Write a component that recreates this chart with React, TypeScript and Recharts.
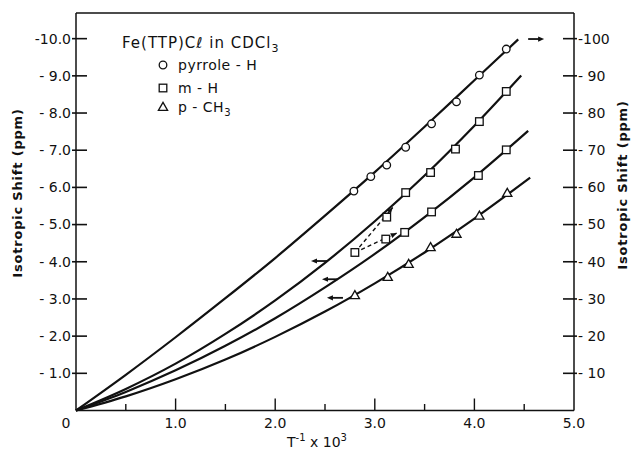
import { ComposedChart, Line, Scatter, XAxis, YAxis, Legend } from "recharts";

// axis ticks
const xTicks = [0, 0.5, 1, 1.5, 2, 2.5, 3, 3.5, 4, 4.5, 5];
const leftTicks = [1, 2, 3, 4, 5, 6, 7, 8, 9, 10];
const rightTicks = [10, 20, 30, 40, 50, 60, 70, 80, 90, 100];

// measured points (T^-1 x 10^3, isotropic shift)
const pyrroleX = [2.79, 2.96, 3.12, 3.31, 3.57, 3.82, 4.05, 4.32];
const pyrroleY = [59.0, 62.9, 66.0, 70.8, 77.1, 83.0, 90.2, 97.2];
const mHUpperX = [3.12, 3.31, 3.56, 3.81, 4.05, 4.32];
const mHUpperY = [5.2, 5.86, 6.4, 7.03, 7.77, 8.58];
const mHLowerX = [3.11, 3.3, 3.57, 4.04, 4.32];
const mHLowerY = [4.61, 4.79, 5.34, 6.32, 7.01];
const mHMergedX = [2.8];
const mHMergedY = [4.25];
const pCH3X = [2.8, 3.13, 3.34, 3.56, 3.82, 4.05, 4.33];
const pCH3Y = [3.1, 3.59, 3.94, 4.39, 4.75, 5.24, 5.85];

// drawn curves
const pyrroleCurveX = [0, 0.5, 1, 1.5, 2, 2.5, 3, 3.5, 4, 4.44];
const pyrroleCurveY = [0, 9.6, 19.7, 30.2, 41.0, 52.4, 64.1, 76.3, 88.8, 99.8];
const mHUpperCurveX = [0, 0.5, 1, 1.5, 2, 2.5, 3, 3.5, 4, 4.47];
const mHUpperCurveY = [0, 0.58, 1.26, 2.06, 2.96, 3.97, 5.09, 6.32, 7.66, 9.01];
const mHLowerCurveX = [0, 0.5, 1, 1.5, 2, 2.5, 3, 3.5, 4, 4.54];
const mHLowerCurveY = [0, 0.5, 1.08, 1.74, 2.48, 3.31, 4.21, 5.2, 6.27, 7.52];
const pCH3CurveX = [0, 0.5, 1, 1.5, 2, 2.5, 3, 3.5, 4, 4.56];
const pCH3CurveY = [0, 0.38, 0.84, 1.37, 1.98, 2.66, 3.42, 4.25, 5.16, 6.26];

// dashed links from the coalesced m-H point
const linkUpperX = [2.8, 3.18];
const linkUpperY = [4.25, 5.46];
const linkLowerX = [2.8, 3.22];
const linkLowerY = [4.25, 4.77];

// axis pointers
const leftArrowX = [2.44, 2.55, 2.6];
const leftArrowY = [4.02, 3.53, 3.03];
const rightArrowX = [4.62];
const rightArrowY = [99.9];

const legendLabels = ["pyrrole - H", "m - H", "p - CH"];

const pts = (xs: number[], ys: number[]) => xs.map((x, i) => ({ x, y: ys[i] }));

const INK = "#111";
const FONT = "'DejaVu Sans', sans-serif";

const CircleMark = (p: any) => (
  <circle cx={p.cx} cy={p.cy} r={3.8} fill="#fff" stroke={INK} strokeWidth={1.3} />
);
const SquareMark = (p: any) => (
  <rect x={p.cx - 3.8} y={p.cy - 3.8} width={7.6} height={7.6} fill="#fff" stroke={INK} strokeWidth={1.3} />
);
const TriangleMark = (p: any) => (
  <polygon
    points={`${p.cx},${p.cy - 4.6} ${p.cx - 4.6},${p.cy + 3.4} ${p.cx + 4.6},${p.cy + 3.4}`}
    fill="#fff"
    stroke={INK}
    strokeWidth={1.3}
  />
);
const LeftArrow = (p: any) => (
  <g>
    <line x1={p.cx - 4} x2={p.cx + 8} y1={p.cy} y2={p.cy} stroke={INK} strokeWidth={1.8} />
    <polygon points={`${p.cx - 8},${p.cy} ${p.cx - 2},${p.cy - 2.6} ${p.cx - 2},${p.cy + 2.6}`} fill={INK} />
  </g>
);
const RightArrow = (p: any) => (
  <g>
    <line x1={p.cx - 8} x2={p.cx + 4} y1={p.cy} y2={p.cy} stroke={INK} strokeWidth={1.8} />
    <polygon points={`${p.cx + 8},${p.cy} ${p.cx + 2},${p.cy - 2.6} ${p.cx + 2},${p.cy + 2.6}`} fill={INK} />
  </g>
);

// arrowhead at the end of a two-point dashed line
const makeArrowDot = () => {
  let prev = { x: 0, y: 0 };
  return (p: any) => {
    if (p.index === 0) {
      prev = { x: p.cx, y: p.cy };
      return <g key={`d${p.index}`} />;
    }
    const a = (Math.atan2(p.cy - prev.y, p.cx - prev.x) * 180) / Math.PI;
    return (
      <polygon
        key={`d${p.index}`}
        points="0,0 -6,-2.6 -6,2.6"
        fill={INK}
        transform={`translate(${p.cx},${p.cy}) rotate(${a})`}
      />
    );
  };
};

const tickText = { fontFamily: FONT, fontSize: 14, fill: INK };

const LeftTick = (p: any) => {
  const v = p.payload.value;
  const label = v >= 10 ? `-${v.toFixed(1)}` : `- ${v.toFixed(1)}`;
  return (
    <g>
      <line x1={p.x - 4} x2={p.x + 11} y1={p.y} y2={p.y} stroke={INK} strokeWidth={1.6} />
      <text x={p.x - 5} y={p.y} dy="0.35em" textAnchor="end" {...tickText}>
        {label}
      </text>
    </g>
  );
};

const RightTick = (p: any) => {
  const v = p.payload.value;
  const label = v >= 100 ? `-${v}` : `- ${v}`;
  return (
    <g>
      <line x1={p.x - 11} x2={p.x + 3} y1={p.y} y2={p.y} stroke={INK} strokeWidth={1.6} />
      <text x={p.x + 4} y={p.y} dy="0.35em" textAnchor="start" {...tickText}>
        {label}
      </text>
    </g>
  );
};

const BottomTick = (p: any) => {
  const v = p.payload.value;
  const major = Number.isInteger(v);
  return (
    <g>
      {v > 0 && v < 5 && (
        <line x1={p.x} x2={p.x} y1={p.y} y2={p.y - (major ? 12 : 6.5)} stroke={INK} strokeWidth={1.4} />
      )}
      {major && (
        <text x={p.x} y={p.y + 13} dx={v === 0 ? -10 : 0} dy="0.35em" textAnchor="middle" {...tickText}>
          {v === 0 ? "0" : v.toFixed(1)}
        </text>
      )}
    </g>
  );
};

const TopTick = (p: any) => {
  const v = p.payload.value;
  if (v <= 0 || v >= 5) return <g />;
  const major = Number.isInteger(v);
  return <line x1={p.x} x2={p.x} y1={p.y} y2={p.y + (major ? 12 : 7)} stroke={INK} strokeWidth={1.4} />;
};

const XTitle = (p: any) => {
  const vb = p.viewBox;
  return (
    <text x={vb.x + vb.width / 2 - 8} y={447} textAnchor="middle" fontFamily={FONT} fontSize={14} fill={INK}>
      T<tspan dy={-6} fontSize={10}>-1</tspan>
      <tspan dy={6}> x 10</tspan>
      <tspan dy={-6} fontSize={10}>3</tspan>
    </text>
  );
};

const YTitle = (p: any) => {
  const cx = p.side === "left" ? 17 : 622;
  const cy = p.side === "left" ? 193 : 185;
  return (
    <text
      x={cx}
      y={cy}
      transform={`rotate(-90, ${cx}, ${cy})`}
      textAnchor="middle"
      dy="0.35em"
      fontFamily={FONT}
      fontSize={13}
      fontWeight="bold"
      letterSpacing={0.8}
      fill={INK}
    >
      Isotropic Shift (ppm)
    </text>
  );
};

const LegendBox = () => {
  const marks = [
    (x: number, y: number) => <circle cx={x} cy={y} r={3.8} fill="#fff" stroke={INK} strokeWidth={1.3} />,
    (x: number, y: number) => (
      <rect x={x - 3.8} y={y - 3.8} width={7.6} height={7.6} fill="#fff" stroke={INK} strokeWidth={1.3} />
    ),
    (x: number, y: number) => (
      <polygon points={`${x},${y - 4.6} ${x - 4.6},${y + 3.4} ${x + 4.6},${y + 3.4}`} fill="#fff" stroke={INK} strokeWidth={1.3} />
    ),
  ];
  const rowY = [40, 63, 82];
  return (
    <svg width={240} height={100} style={{ display: "block" }}>
      <text x={12} y={23} fontFamily={FONT} fontSize={15} fill={INK} letterSpacing={1}>
        Fe(TTP)C<tspan fontStyle="italic">ℓ</tspan> in CDCl
        <tspan dy={4} fontSize={11}>3</tspan>
      </text>
      {legendLabels.map((name, i) => (
        <g key={name}>
          {marks[i](53, rowY[i])}
          <text x={68} y={rowY[i]} dy="0.35em" fontFamily={FONT} fontSize={14} fill={INK} letterSpacing={0.5}>
            {name}
            {i === 2 && (
              <tspan dy={4} fontSize={10}>
                3
              </tspan>
            )}
          </text>
        </g>
      ))}
    </svg>
  );
};

export default function App() {
  const lineProps = { type: "monotone" as const, dataKey: "y", stroke: INK, strokeWidth: 2.2, dot: false, isAnimationActive: false };
  return (
    <div style={{ position: "absolute", left: 0, top: 0, width: 632, height: 452, background: "#fff" }}>
      <ComposedChart width={632} height={452} margin={{ top: 0, right: 0, bottom: 0, left: 0 }}>
        <XAxis
          dataKey="x"
          type="number"
          domain={[0, 5]}
          ticks={xTicks}
          interval={0}
          height={41.5}
          tickSize={0}
          tickMargin={0}
          tick={<BottomTick />}
          axisLine={{ stroke: INK, strokeWidth: 1.5 }}
          label={<XTitle />}
        />
        <XAxis
          xAxisId="top"
          orientation="top"
          dataKey="x"
          type="number"
          domain={[0, 5]}
          ticks={xTicks}
          interval={0}
          height={13}
          tickSize={0}
          tickMargin={0}
          tick={<TopTick />}
          axisLine={{ stroke: INK, strokeWidth: 1.5 }}
        />
        <YAxis
          yAxisId="left"
          dataKey="y"
          type="number"
          domain={[0, 10.69]}
          ticks={leftTicks}
          interval={0}
          width={76}
          tickSize={0}
          tickMargin={0}
          tick={<LeftTick />}
          axisLine={{ stroke: INK, strokeWidth: 1.5 }}
          label={<YTitle side="left" />}
        />
        <YAxis
          yAxisId="right"
          orientation="right"
          dataKey="y"
          type="number"
          domain={[0, 106.9]}
          ticks={rightTicks}
          interval={0}
          width={58}
          tickSize={0}
          tickMargin={0}
          tick={<RightTick />}
          axisLine={{ stroke: INK, strokeWidth: 1.5 }}
          label={<YTitle side="right" />}
        />

        <Line {...lineProps} yAxisId="right" data={pts(pyrroleCurveX, pyrroleCurveY)} />
        <Line {...lineProps} yAxisId="left" data={pts(mHUpperCurveX, mHUpperCurveY)} />
        <Line {...lineProps} yAxisId="left" data={pts(mHLowerCurveX, mHLowerCurveY)} />
        <Line {...lineProps} yAxisId="left" data={pts(pCH3CurveX, pCH3CurveY)} />

        <Line
          type="linear"
          dataKey="y"
          yAxisId="left"
          data={pts(linkUpperX, linkUpperY)}
          stroke={INK}
          strokeWidth={1.4}
          strokeDasharray="4 3"
          dot={makeArrowDot()}
          isAnimationActive={false}
        />
        <Line
          type="linear"
          dataKey="y"
          yAxisId="left"
          data={pts(linkLowerX, linkLowerY)}
          stroke={INK}
          strokeWidth={1.4}
          strokeDasharray="4 3"
          dot={makeArrowDot()}
          isAnimationActive={false}
        />

        <Scatter yAxisId="right" data={pts(pyrroleX, pyrroleY)} shape={<CircleMark />} isAnimationActive={false} />
        <Scatter yAxisId="left" data={pts(mHUpperX, mHUpperY)} shape={<SquareMark />} isAnimationActive={false} />
        <Scatter yAxisId="left" data={pts(mHLowerX, mHLowerY)} shape={<SquareMark />} isAnimationActive={false} />
        <Scatter yAxisId="left" data={pts(mHMergedX, mHMergedY)} shape={<SquareMark />} isAnimationActive={false} />
        <Scatter yAxisId="left" data={pts(pCH3X, pCH3Y)} shape={<TriangleMark />} isAnimationActive={false} />

        <Scatter yAxisId="left" data={pts(leftArrowX, leftArrowY)} shape={<LeftArrow />} isAnimationActive={false} />
        <Scatter yAxisId="right" data={pts(rightArrowX, rightArrowY)} shape={<RightArrow />} isAnimationActive={false} />

        <Legend
          layout="horizontal"
          align="center"
          verticalAlign="middle"
          wrapperStyle={{ left: 110, top: 25, width: 240 }}
          content={<LegendBox />}
        />
      </ComposedChart>
    </div>
  );
}
